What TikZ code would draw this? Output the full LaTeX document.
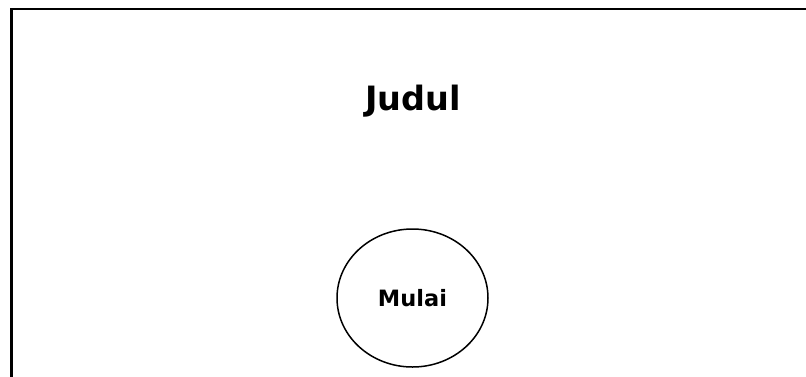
\documentclass[tikz,border=0pt]{standalone}
\usepackage{fontspec}
\setmainfont{DejaVu Sans}
\usetikzlibrary{shapes.geometric}
\tikzset{
  frame/.style={draw=black, line width=2.5pt},
  titletext/.style={font=\bfseries\fontsize{33.5}{40}\selectfont, inner sep=0pt, anchor=base},
  terminal/.style={ellipse, draw=black, line width=1.5pt, minimum width=151pt, minimum height=138pt, inner sep=0pt, font=\bfseries\fontsize{22.5}{26}\selectfont}
}
\begin{document}
\begin{tikzpicture}[x=1pt, y=-1pt]
  \useasboundingbox (0,0) rectangle (806,376);
  \fill[white] (0,0) rectangle (806,376);
  \begin{scope}
    \clip (0,0) rectangle (806,376);
    \draw[frame] (11.5,9) rectangle (830,400);
  \end{scope}
  \node[titletext] (judul) at (413,110) {Judul};
  \node[terminal] (mulai) at (412.5,298) {Mulai};
\end{tikzpicture}
\end{document}
